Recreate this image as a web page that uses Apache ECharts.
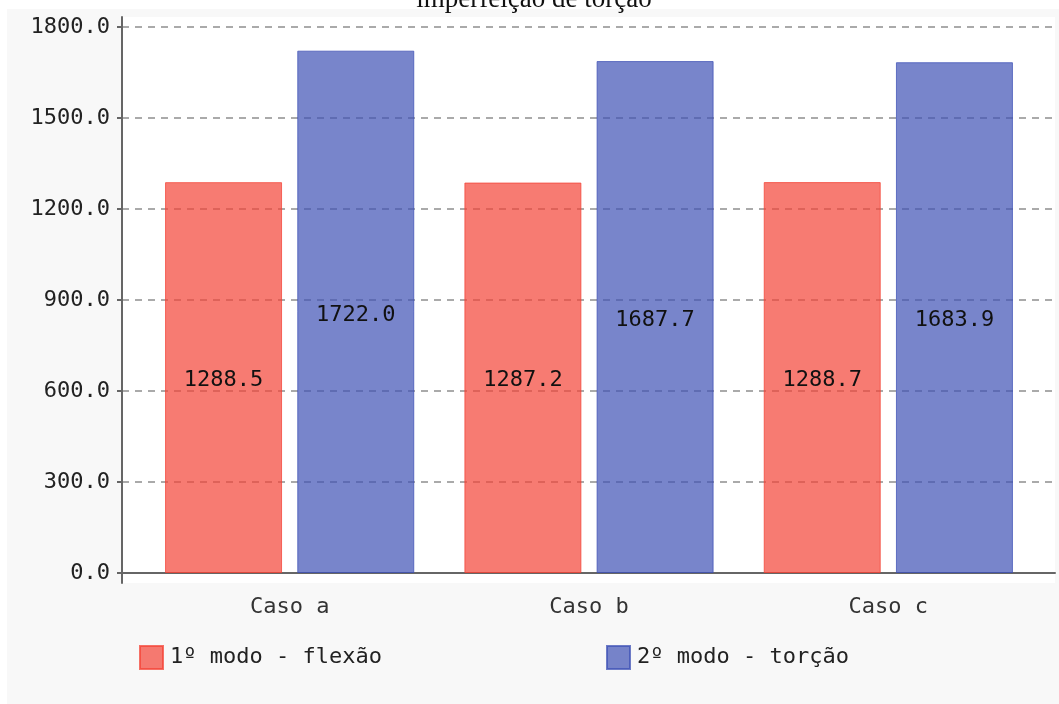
<!DOCTYPE html>
<html>
<head>
<meta charset="utf-8">
<script src="https://cdn.jsdelivr.net/npm/echarts@6/dist/echarts.min.js"></script>
<style>
  html, body { margin: 0; padding: 0; background: #fff; }
  #chart { width: 1059px; height: 704px; }
</style>
</head>
<body>
<div id="chart"></div>
<script>
// Frequências dos dois primeiros modos para cada caso
const categories = ['Caso a', 'Caso b', 'Caso c'];
const flexao = [1288.5, 1287.2, 1288.7];
const torcao = [1722.0, 1687.7, 1683.9];
const yTicks = [0, 300, 600, 900, 1200, 1500, 1800];
const seriesNames = ['1º modo - flexão', '2º modo - torção'];
const titleText = 'imperfeição de torção';

const MONO = '"DejaVu Sans Mono", monospace';
const FS = 22;

const chart = echarts.init(document.getElementById('chart'));

const legendText = { fontFamily: MONO, fontSize: FS, color: '#222', padding: [3, 0, 0, 2] };

chart.setOption({
  animation: false,
  backgroundColor: '#ffffff',
  graphic: [
    {
      type: 'rect', z: -5, silent: true,
      shape: { x: 7, y: 9, width: 1052, height: 695 },
      style: { fill: '#f8f8f8' }
    },
    {
      type: 'text', z: 10, silent: true,
      style: {
        text: titleText, x: 534, y: 13,
        textAlign: 'center', textVerticalAlign: 'bottom',
        font: '27px "Liberation Serif", serif', fill: '#111'
      }
    }
  ],
  legend: [
    {
      data: [seriesNames[0]], left: 139, top: 645, padding: 0,
      itemWidth: 23, itemHeight: 23, itemGap: 0, icon: 'rect',
      textStyle: legendText
    },
    {
      data: [seriesNames[1]], left: 606, top: 645, padding: 0,
      itemWidth: 23, itemHeight: 23, itemGap: 0, icon: 'rect',
      textStyle: legendText
    }
  ],
  grid: [
    // plot frame: white area, y axis, dashed guides, x baseline
    { left: 122, right: 4, top: 17, bottom: 121, show: true, backgroundColor: '#ffffff', borderWidth: 0 },
    // bars
    { left: 140, right: 21, top: 27, bottom: 131 }
  ],
  xAxis: [
    {
      gridIndex: 0, type: 'value', min: 0, max: 1,
      axisLine: { show: true, onZero: true, lineStyle: { color: '#666', width: 2 } },
      axisTick: { show: false }, axisLabel: { show: false }, splitLine: { show: false }
    },
    {
      gridIndex: 1, type: 'category', data: categories,
      axisLine: { show: false }, axisTick: { show: false },
      axisLabel: { fontFamily: MONO, fontSize: FS, color: '#333', margin: 23 }
    }
  ],
  yAxis: [
    {
      gridIndex: 0, type: 'value', min: -33, max: 1833,
      axisLine: { show: true, lineStyle: { color: '#666', width: 2 } },
      axisTick: { show: true, length: 5, customValues: yTicks, lineStyle: { color: '#666', width: 2 } },
      axisLabel: {
        customValues: yTicks, margin: 12, padding: [8, 0, 0, 0],
        fontFamily: MONO, fontSize: FS, color: '#222',
        formatter: v => Number(v).toFixed(1)
      },
      splitLine: {
        show: true, customValues: yTicks,
        lineStyle: { color: '#aaaaaa', width: 2, type: [7, 6] }
      }
    },
    {
      gridIndex: 1, type: 'value', min: 0, max: 1800, show: false,
      splitLine: { show: false }
    }
  ],
  series: [
    {
      name: seriesNames[0], type: 'bar', xAxisIndex: 1, yAxisIndex: 1,
      data: flexao, barWidth: 117, barGap: '13%',
      itemStyle: { color: 'rgba(244,67,54,0.7)', borderColor: 'rgba(244,67,54,0.75)', borderWidth: 1 },
      label: {
        show: true, position: 'inside', offset: [0, 3], fontFamily: MONO, fontSize: FS, color: '#111',
        formatter: p => p.value.toFixed(1)
      }
    },
    {
      name: seriesNames[1], type: 'bar', xAxisIndex: 1, yAxisIndex: 1,
      data: torcao, barWidth: 117, barGap: '13%',
      itemStyle: { color: 'rgba(63,81,181,0.7)', borderColor: 'rgba(63,81,181,0.75)', borderWidth: 1 },
      label: {
        show: true, position: 'inside', offset: [0, 3], fontFamily: MONO, fontSize: FS, color: '#111',
        formatter: p => p.value.toFixed(1)
      }
    }
  ]
});
</script>
</body>
</html>
